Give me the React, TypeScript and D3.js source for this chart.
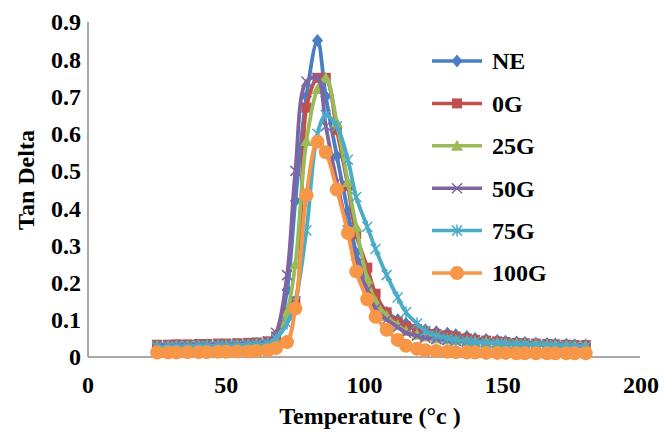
import * as d3 from 'd3';
import React, { useEffect, useRef } from 'react';

// temperature (°C) of each measured point
const temps = [25, 29, 32, 36, 40, 43, 47, 50, 54, 58, 61, 65, 68, 72, 75, 79, 83, 86, 90, 94, 97, 101, 104, 108, 112, 115, 119, 122, 126, 130, 133, 137, 140, 144, 148, 151, 155, 158, 162, 166, 169, 173, 176, 180];

const ne = [0.030, 0.030, 0.031, 0.031, 0.032, 0.032, 0.033, 0.033, 0.034, 0.035, 0.036, 0.038, 0.05, 0.18, 0.42, 0.70, 0.85, 0.70, 0.54, 0.39, 0.28, 0.20, 0.15, 0.12, 0.10, 0.09, 0.08, 0.073, 0.068, 0.064, 0.06, 0.055, 0.05, 0.047, 0.044, 0.042, 0.04, 0.039, 0.037, 0.036, 0.035, 0.034, 0.033, 0.032];
const g0 = [0.033, 0.033, 0.034, 0.034, 0.035, 0.035, 0.036, 0.036, 0.037, 0.038, 0.039, 0.042, 0.055, 0.12, 0.15, 0.67, 0.75, 0.75, 0.61, 0.46, 0.33, 0.24, 0.17, 0.12, 0.095, 0.082, 0.075, 0.068, 0.062, 0.058, 0.055, 0.05, 0.046, 0.044, 0.042, 0.04, 0.038, 0.037, 0.036, 0.035, 0.034, 0.033, 0.032, 0.032];
const g25 = [0.030, 0.030, 0.031, 0.031, 0.032, 0.032, 0.033, 0.033, 0.034, 0.035, 0.036, 0.038, 0.048, 0.12, 0.25, 0.58, 0.72, 0.75, 0.63, 0.47, 0.35, 0.21, 0.15, 0.11, 0.085, 0.07, 0.06, 0.055, 0.05, 0.047, 0.045, 0.043, 0.041, 0.04, 0.038, 0.037, 0.036, 0.035, 0.034, 0.033, 0.032, 0.031, 0.03, 0.03];
const g50 = [0.031, 0.031, 0.032, 0.032, 0.033, 0.033, 0.034, 0.034, 0.035, 0.036, 0.037, 0.042, 0.065, 0.22, 0.50, 0.74, 0.75, 0.62, 0.47, 0.34, 0.25, 0.18, 0.13, 0.10, 0.08, 0.065, 0.057, 0.052, 0.048, 0.045, 0.043, 0.041, 0.04, 0.038, 0.037, 0.036, 0.035, 0.034, 0.033, 0.032, 0.031, 0.03, 0.03, 0.029];
const g75 = [0.028, 0.028, 0.029, 0.029, 0.030, 0.030, 0.031, 0.031, 0.032, 0.033, 0.034, 0.036, 0.05, 0.09, 0.15, 0.34, 0.60, 0.65, 0.62, 0.53, 0.43, 0.35, 0.29, 0.22, 0.16, 0.12, 0.09, 0.07, 0.058, 0.05, 0.046, 0.043, 0.041, 0.039, 0.037, 0.036, 0.035, 0.034, 0.033, 0.032, 0.031, 0.03, 0.029, 0.028];
const g100 = [0.012, 0.012, 0.012, 0.013, 0.013, 0.013, 0.014, 0.014, 0.015, 0.015, 0.016, 0.018, 0.024, 0.04, 0.13, 0.435, 0.578, 0.55, 0.45, 0.333, 0.23, 0.155, 0.108, 0.073, 0.046, 0.03, 0.022, 0.018, 0.016, 0.014, 0.013, 0.012, 0.012, 0.011, 0.011, 0.011, 0.01, 0.01, 0.01, 0.01, 0.01, 0.01, 0.01, 0.01];

const seriesNames = ['NE', '0G', '25G', '50G', '75G', '100G'];
const seriesValues = [ne, g0, g25, g50, g75, g100];
const colors = ['#4A7EC2', '#C0504D', '#9BBB59', '#8064A2', '#4BACC6', '#F79646'];
const markers = ['diamond', 'square', 'triangle', 'x', 'asterisk', 'circle'];

const yTicks = [0, 0.1, 0.2, 0.3, 0.4, 0.5, 0.6, 0.7, 0.8, 0.9];
const xTicks = [0, 50, 100, 150, 200];

const font = '"Liberation Serif", "Times New Roman", serif';

function drawMarker(g, kind, color) {
  if (kind === 'circle') {
    g.append('circle').attr('r', 7).attr('fill', color);
  } else if (kind === 'square') {
    g.append('rect').attr('x', -5).attr('y', -5).attr('width', 10).attr('height', 10).attr('fill', color);
  } else if (kind === 'diamond') {
    g.append('path').attr('d', 'M0,-6.5L5.5,0L0,6.5L-5.5,0Z').attr('fill', color);
  } else if (kind === 'triangle') {
    g.append('path').attr('d', 'M0,-6L6,5L-6,5Z').attr('fill', color);
  } else if (kind === 'x') {
    g.append('path').attr('d', 'M-5,-5L5,5M-5,5L5,-5').attr('stroke', color).attr('stroke-width', 1.5).attr('fill', 'none');
  } else {
    g.append('path').attr('d', 'M-5,-5L5,5M-5,5L5,-5M0,-6L0,6').attr('stroke', color).attr('stroke-width', 1.5).attr('fill', 'none');
  }
}

const App = () => {
  const ref = useRef(null);

  useEffect(() => {
    const svg = d3.select(ref.current);
    svg.selectAll('*').remove();

    const x = d3.scaleLinear().domain([0, 200]).range([88, 641]);
    const y = d3.scaleLinear().domain([0, 0.9]).range([357, 22]);

    // axes
    svg.append('line').attr('x1', 88).attr('x2', 88).attr('y1', 22).attr('y2', 357)
      .attr('stroke', '#8c8c8c').attr('stroke-width', 1.5);
    svg.append('line').attr('x1', 88).attr('x2', 640).attr('y1', 357).attr('y2', 357)
      .attr('stroke', '#8c8c8c').attr('stroke-width', 1.5);

    svg.append('g').selectAll('text').data(yTicks).enter().append('text')
      .attr('x', 81).attr('y', d => y(d)).attr('dy', '0.35em')
      .attr('text-anchor', 'end')
      .style('font-family', font).style('font-size', '24px').style('font-weight', 'bold')
      .text(d => d === 0 ? '0' : d.toFixed(1));

    svg.append('g').selectAll('text').data(xTicks).enter().append('text')
      .attr('x', d => x(d)).attr('y', 393)
      .attr('text-anchor', 'middle')
      .style('font-family', font).style('font-size', '24px').style('font-weight', 'bold')
      .text(d => d);

    svg.append('text')
      .attr('x', 370).attr('y', 424).attr('text-anchor', 'middle')
      .style('font-family', font).style('font-size', '24px').style('font-weight', 'bold')
      .text('Temperature (°c )');

    svg.append('text')
      .attr('transform', 'translate(34,180)rotate(-90)').attr('text-anchor', 'middle')
      .style('font-family', font).style('font-size', '24px').style('font-weight', 'bold')
      .text('Tan Delta');

    const line = d3.line()
      .x((d, i) => x(temps[i]))
      .y(d => y(d))
      .curve(d3.curveCatmullRom.alpha(0.5));

    seriesValues.forEach((vals, s) => {
      const g = svg.append('g');
      g.append('path').datum(vals).attr('d', line)
        .attr('fill', 'none').attr('stroke', colors[s]).attr('stroke-width', 3.8);
      vals.forEach((v, i) => {
        const m = g.append('g').attr('transform', `translate(${x(temps[i])},${y(v)})`);
        drawMarker(m, markers[s], colors[s]);
      });
    });

    // legend
    const legend = svg.append('g');
    seriesNames.forEach((name, i) => {
      const ly = 61 + i * 42.4;
      const row = legend.append('g').attr('transform', `translate(0,${ly})`);
      row.append('line').attr('x1', 432).attr('x2', 482).attr('y1', 0).attr('y2', 0)
        .attr('stroke', colors[i]).attr('stroke-width', 3.5);
      const m = row.append('g').attr('transform', 'translate(457,0)');
      drawMarker(m, markers[i], colors[i]);
      row.append('text').attr('x', 492).attr('y', 0).attr('dy', '0.35em')
        .style('font-family', font).style('font-size', '24px').style('font-weight', 'bold')
        .text(name);
    });
  }, []);

  return (
    <svg ref={ref} width={666} height={434}
      style={{ position: 'absolute', left: 0, top: 0, background: '#fff' }} />
  );
};

export default App;
